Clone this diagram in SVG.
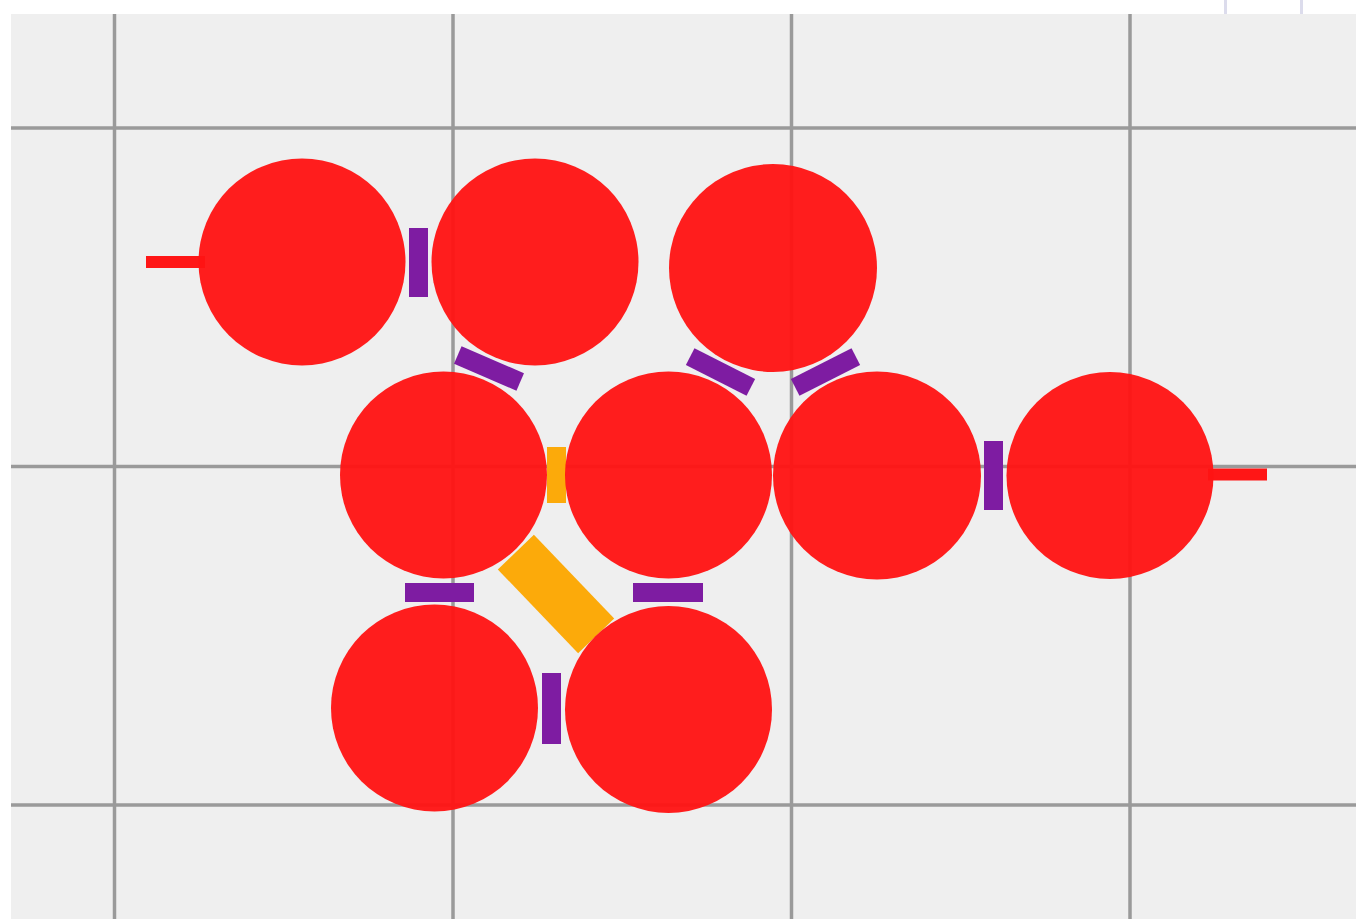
<svg xmlns="http://www.w3.org/2000/svg" width="1356" height="919" viewBox="0 0 1356 919">
  <style>
    .grid { stroke: #9a9a9a; stroke-width: 3.5; fill: none; }
    .atom { fill: #ff1414; fill-opacity: 0.96; }
    .pb { fill: #7e1ca2; }
    .ob { fill: #fcaa0a; }
    .stub { stroke: #ff1616; stroke-width: 12; }
  </style>
  <rect x="0" y="0" width="1356" height="919" fill="#ffffff"/>
  <rect x="11" y="14" width="1345" height="905" fill="#efefef"/>
  <line x1="1225.5" y1="0" x2="1225.5" y2="14" stroke="#dcdcec" stroke-width="3"/>
  <line x1="1301.5" y1="0" x2="1301.5" y2="14" stroke="#dcdcec" stroke-width="3"/>
  <g id="grid">
    <line class="grid" x1="114.5" y1="14" x2="114.5" y2="919"/>
    <line class="grid" x1="453" y1="14" x2="453" y2="919"/>
    <line class="grid" x1="791.5" y1="14" x2="791.5" y2="919"/>
    <line class="grid" x1="1130" y1="14" x2="1130" y2="919"/>
    <line class="grid" x1="11" y1="128" x2="1356" y2="128"/>
    <line class="grid" x1="11" y1="466.5" x2="1356" y2="466.5"/>
    <line class="grid" x1="11" y1="805" x2="1356" y2="805"/>
  </g>
  <g id="connectors">
    <line class="stub" x1="146" y1="262" x2="205" y2="262"/>
    <line class="stub" x1="1208" y1="474.5" x2="1267" y2="474.5"/>
    <rect class="ob" x="547" y="447" width="19" height="56"/>
    <rect class="ob" x="-58" y="-25" width="116" height="50" transform="translate(556 594) rotate(46.2)"/>
    <rect class="pb" x="409" y="228" width="19" height="69"/>
    <rect class="pb" x="984" y="441" width="19" height="69"/>
    <rect class="pb" x="542" y="673" width="19" height="71"/>
    <rect class="pb" x="405" y="583" width="69" height="19"/>
    <rect class="pb" x="633" y="583" width="70" height="19"/>
    <rect class="pb" x="-34" y="-9.5" width="68" height="19" transform="translate(489 368.5) rotate(23.4)"/>
    <rect class="pb" x="-34" y="-9.5" width="68" height="19" transform="translate(720.5 372) rotate(26.9)"/>
    <rect class="pb" x="-34" y="-9.5" width="68" height="19" transform="translate(825.5 372) rotate(-26.9)"/>
  </g>
  <g id="n1"><circle class="atom" cx="302" cy="262" r="103.5"/></g>
  <g id="n2"><circle class="atom" cx="535" cy="262" r="103.5"/></g>
  <g id="n3"><circle class="atom" cx="773" cy="268" r="104"/></g>
  <g id="n4"><circle class="atom" cx="443.5" cy="475" r="103.5"/></g>
  <g id="n5"><circle class="atom" cx="668.5" cy="475" r="103.5"/></g>
  <g id="n6"><circle class="atom" cx="877" cy="475.5" r="104"/></g>
  <g id="n7"><circle class="atom" cx="1110" cy="475.5" r="103.5"/></g>
  <g id="n8"><circle class="atom" cx="434.5" cy="708" r="103.5"/></g>
  <g id="n9"><circle class="atom" cx="668.5" cy="709.5" r="103.5"/></g>
</svg>
